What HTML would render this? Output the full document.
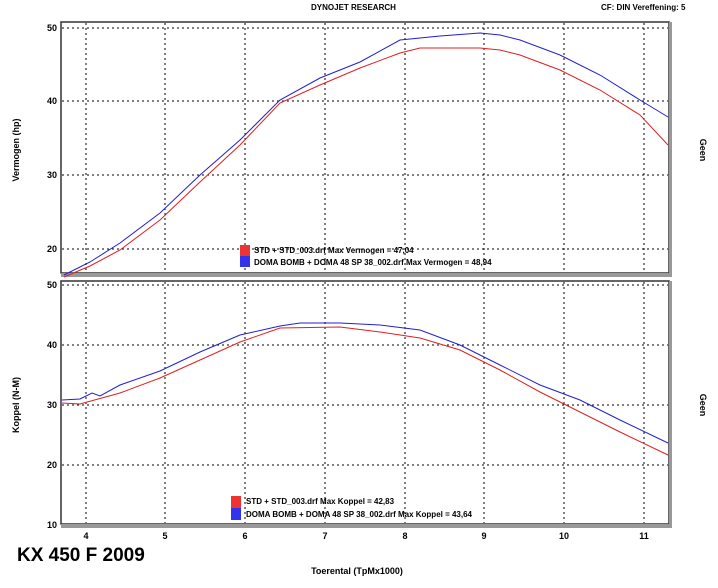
<!DOCTYPE html>
<html><head><meta charset="utf-8"><style>
body{margin:0;background:#fff;width:718px;height:583px;overflow:hidden;font-family:"Liberation Sans",sans-serif}
</style></head><body>
<svg width="718" height="583" xmlns="http://www.w3.org/2000/svg" font-family="Liberation Sans, sans-serif">
<rect width="718" height="583" fill="#fff"/>
<text x="311" y="10" font-size="8" font-weight="bold">DYNOJET RESEARCH</text>
<text x="601" y="10" font-size="8" font-weight="bold">CF: DIN  Vereffening: 5</text>
<!-- top panel -->
<rect x="61" y="22" width="608" height="251" fill="#fff" stroke="#333" stroke-width="1.5"/>
<rect x="61" y="273" width="610" height="4" fill="#999"/>
<rect x="669" y="22" width="3" height="255" fill="#999"/>
<g stroke="#000" stroke-dasharray="2,3" stroke-width="1">
<line x1="62" y1="28" x2="668" y2="28"/><line x1="62" y1="101" x2="668" y2="101"/><line x1="62" y1="175" x2="668" y2="175"/><line x1="62" y1="249" x2="668" y2="249"/>
<line x1="86" y1="23" x2="86" y2="272"/><line x1="165" y1="23" x2="165" y2="272"/><line x1="245" y1="23" x2="245" y2="272"/><line x1="325" y1="23" x2="325" y2="272"/><line x1="405" y1="23" x2="405" y2="272"/><line x1="484" y1="23" x2="484" y2="272"/><line x1="564" y1="23" x2="564" y2="272"/><line x1="644" y1="23" x2="644" y2="272"/>
</g>
<g font-size="9" font-weight="bold" text-anchor="end">
<text x="57" y="31">50</text><text x="57" y="104">40</text><text x="57" y="178">30</text><text x="57" y="252">20</text>
</g>
<polyline fill="none" stroke="#e02020" stroke-width="1" points="64,277 90,266 120,250 160,220 200,182 240,145 280,103 320,85 360,68 400,53 420,48 440,48 480,48 500,50 520,55 560,70 600,90 640,115 668,145"/>
<polyline fill="none" stroke="#2020d0" stroke-width="1" points="64,275 90,262 120,243 160,213 200,175 240,140 280,100 320,78 360,62 400,40 440,36 480,33 500,35 520,40 560,55 600,75 640,100 668,117"/>
<rect x="240" y="245" width="10" height="11" fill="#e33"/><rect x="240" y="256" width="10" height="11" fill="#33e"/>
<g font-size="8" font-weight="bold"><text x="254" y="253">STD + STD_003.drf Max Vermogen = 47,04</text><text x="254" y="265">DOMA BOMB + DOMA 48 SP 38_002.drf Max Vermogen = 48,94</text></g>
<text transform="translate(19,150) rotate(-90)" font-size="9" font-weight="bold" text-anchor="middle">Vermogen (hp)</text>
<text transform="translate(700,150) rotate(90)" font-size="9" font-weight="bold" text-anchor="middle">Geen</text>
<!-- bottom panel -->
<rect x="61" y="281" width="608" height="243" fill="#fff" stroke="#333" stroke-width="1.5"/>
<rect x="61" y="524" width="610" height="4" fill="#999"/>
<rect x="669" y="281" width="3" height="247" fill="#999"/>
<g stroke="#000" stroke-dasharray="2,3" stroke-width="1">
<line x1="62" y1="285" x2="668" y2="285"/><line x1="62" y1="345" x2="668" y2="345"/><line x1="62" y1="405" x2="668" y2="405"/><line x1="62" y1="465" x2="668" y2="465"/>
<line x1="86" y1="282" x2="86" y2="523"/><line x1="165" y1="282" x2="165" y2="523"/><line x1="245" y1="282" x2="245" y2="523"/><line x1="325" y1="282" x2="325" y2="523"/><line x1="405" y1="282" x2="405" y2="523"/><line x1="484" y1="282" x2="484" y2="523"/><line x1="564" y1="282" x2="564" y2="523"/><line x1="644" y1="282" x2="644" y2="523"/>
</g>
<g font-size="9" font-weight="bold" text-anchor="end">
<text x="57" y="288">50</text><text x="57" y="348">40</text><text x="57" y="408">30</text><text x="57" y="468">20</text><text x="57" y="528">10</text>
</g>
<g font-size="9" font-weight="bold" text-anchor="middle">
<text x="86" y="539">4</text><text x="165" y="539">5</text><text x="245" y="539">6</text><text x="325" y="539">7</text><text x="405" y="539">8</text><text x="484" y="539">9</text><text x="564" y="539">10</text><text x="644" y="539">11</text>
</g>
<polyline fill="none" stroke="#e02020" stroke-width="1" points="62,403 80,404 120,393 160,378 200,360 240,342 280,328 340,327 380,332 420,338 460,350 500,370 540,392 580,412 620,432 668,455"/>
<polyline fill="none" stroke="#2020d0" stroke-width="1" points="62,400 80,399 92,393 100,396 120,385 160,371 200,352 240,335 280,326 300,323 340,323 380,325 420,330 460,345 500,365 540,385 580,400 620,420 668,443"/>
<rect x="231" y="496" width="10" height="12" fill="#e33"/><rect x="231" y="508" width="10" height="12" fill="#33e"/>
<g font-size="8" font-weight="bold"><text x="246" y="504">STD + STD_003.drf Max Koppel = 42,83</text><text x="246" y="517">DOMA BOMB + DOMA 48 SP 38_002.drf Max Koppel = 43,64</text></g>
<text transform="translate(19,405) rotate(-90)" font-size="9" font-weight="bold" text-anchor="middle">Koppel (N-M)</text>
<text transform="translate(700,405) rotate(90)" font-size="9" font-weight="bold" text-anchor="middle">Geen</text>
<text x="17" y="561" font-size="19" font-weight="bold" transform="scale(1,1)">KX 450 F 2009</text>
<text x="357" y="574" font-size="9" font-weight="bold" text-anchor="middle">Toerental (TpMx1000)</text>
</svg>
</body></html>
